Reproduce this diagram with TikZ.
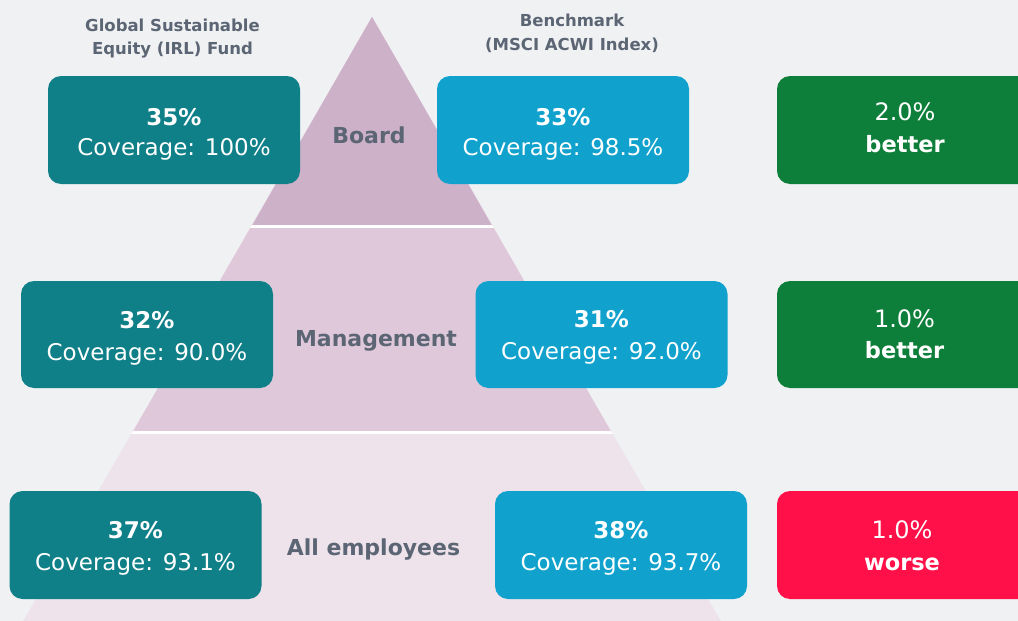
\documentclass[tikz,border=0pt]{standalone}
\usepackage{fontspec}
\setmainfont{DejaVu Sans}
\definecolor{bgc}{HTML}{F0F1F3}
\definecolor{tealc}{HTML}{0F7F88}
\definecolor{bluec}{HTML}{10A2CD}
\definecolor{greenc}{HTML}{0E7F3A}
\definecolor{redc}{HTML}{FF1048}
\definecolor{pyra}{HTML}{CDB1C9}
\definecolor{pyrb}{HTML}{DEC8DA}
\definecolor{pyrc}{HTML}{EEE2EB}
\definecolor{grayc}{HTML}{5B6574}
\tikzset{
  box/.style={rounded corners=13pt, minimum width=252pt, minimum height=108pt, inner sep=0pt, draw=none},
  fundbox/.style={box, fill=tealc},
  benchbox/.style={box, fill=bluec},
  diffbox/.style={box, minimum width=263pt},
  numtxt/.style={anchor=base, inner sep=0pt, text=white, font=\bfseries\fontsize{23}{28}\selectfont},
  covtxt/.style={anchor=base, inner sep=0pt, text=white, font=\fontsize{23}{28}\selectfont},
  dnumtxt/.style={anchor=base, inner sep=0pt, text=white, font=\fontsize{24}{28}\selectfont},
  dlbltxt/.style={anchor=base, inner sep=0pt, text=white, font=\bfseries\fontsize{22.5}{28}\selectfont},
  lvltxt/.style={anchor=base, inner sep=0pt, text=grayc, font=\bfseries\fontsize{22}{26}\selectfont},
  titletxt/.style={anchor=base, inner sep=0pt, text=grayc, font=\bfseries\fontsize{16.5}{20}\selectfont},
}
\begin{document}
\begin{tikzpicture}[x=1pt,y=-1pt]
\clip (0,0) rectangle (1018,621);
\fill[bgc] (0,0) rectangle (1018,621);
% pyramid
\coordinate (apex) at (372,17);
\fill[pyrc] (apex) -- (23.3,621) -- (720.7,621) -- cycle;
\fill[pyrb] (apex) -- (132.4,432.5) -- (611.6,432.5) -- cycle;
\fill[pyra] (apex) -- (251.7,226.5) -- (492.3,226.5) -- cycle;
\begin{scope}
\clip (apex) -- (23.3,621) -- (720.7,621) -- cycle;
\draw[white, line width=3pt] (0,226.5) -- (1018,226.5);
\draw[white, line width=3pt] (0,432.5) -- (1018,432.5);
\end{scope}
% titles
\node[titletxt] (t1a) at (172.5,31) {Global Sustainable};
\node[titletxt] (t1b) at (172.5,54) {Equity (IRL) Fund};
\node[titletxt] (t2a) at (572,27) {Benchmark};
\node[titletxt] (t2b) at (572,50) {(MSCI ACWI Index)};
% level labels
\node[lvltxt] (l1) at (369,143) {Board};
\node[lvltxt] (l2) at (376,346) {Management};
\node[lvltxt] (l3) at (373.5,555) {All employees};
% boxes row 1
\node[fundbox] (f1) at (174,130) {};
\node[benchbox] (b1) at (563,130) {};
\node[diffbox, fill=greenc] (d1) at (908.5,130) {};
% row 2
\node[fundbox, minimum height=107pt] (f2) at (147,334.5) {};
\node[benchbox, minimum height=107pt] (b2) at (601.5,334.5) {};
\node[diffbox, minimum height=107pt, fill=greenc] (d2) at (908.5,334.5) {};
% row 3
\node[fundbox] (f3) at (135.5,545) {};
\node[benchbox] (b3) at (621,545) {};
\node[diffbox, fill=redc] (d3) at (908.5,545) {};
% texts row 1
\node[numtxt] (f1n) at (174,125) {35\%};
\node[covtxt] (f1c) at (174,155) {Coverage: 100\%};
\node[numtxt] (b1n) at (563,125) {33\%};
\node[covtxt] (b1c) at (563,155) {Coverage: 98.5\%};
\node[dnumtxt] (d1n) at (905,120) {2.0\%};
\node[dlbltxt] (d1c) at (905,152) {better};
% row 2
\node[numtxt] (f2n) at (147,328) {32\%};
\node[covtxt] (f2c) at (147,360) {Coverage: 90.0\%};
\node[numtxt] (b2n) at (601.5,327) {31\%};
\node[covtxt] (b2c) at (601.5,359) {Coverage: 92.0\%};
\node[dnumtxt] (d2n) at (904.5,327) {1.0\%};
\node[dlbltxt] (d2c) at (904.5,358) {better};
% row 3
\node[numtxt] (f3n) at (135.5,538) {37\%};
\node[covtxt] (f3c) at (135.5,570) {Coverage: 93.1\%};
\node[numtxt] (b3n) at (621,538) {38\%};
\node[covtxt] (b3c) at (621,570) {Coverage: 93.7\%};
\node[dnumtxt] (d3n) at (902,538) {1.0\%};
\node[dlbltxt] (d3c) at (902,570) {worse};
\end{tikzpicture}
\end{document}
